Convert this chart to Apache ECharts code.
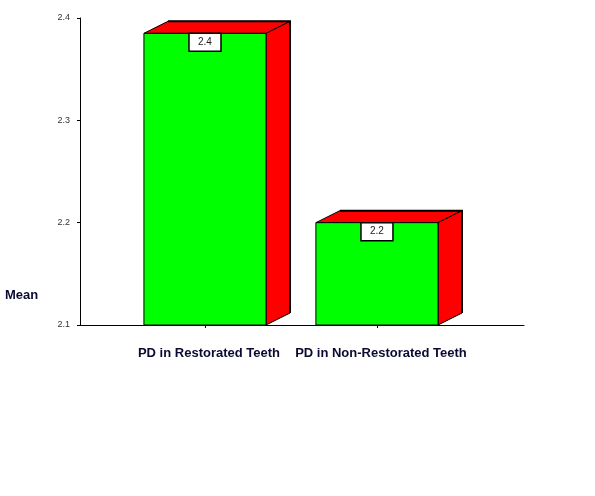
<!DOCTYPE html>
<html><head><meta charset="utf-8">
<script src="https://cdn.jsdelivr.net/npm/echarts@6/dist/echarts.min.js"></script>
<style>html,body{margin:0;padding:0;background:#fff}#c{width:595px;height:496px}</style>
</head><body><div id="c"></div>
<script>
const categories = ["PD in Restorated Teeth", "PD in Non-Restorated Teeth"];
const meanValues = [2.385, 2.2];
const valueLabels = ["2.4", "2.2"];
const yTicks = [2.1, 2.2, 2.3, 2.4];

const chart = echarts.init(document.getElementById('c'));
const DX = 24, DY = 12;
const data = categories.map((c, i) => [i + 1, meanValues[i], i]);

chart.setOption({
  animation: false,
  grid: {left: 80, right: 71, top: 18, bottom: 171, containLabel: false},
  xAxis: {
    type: 'value', min: 0.2733, max: 2.855,
    splitLine: {show: false},
    axisLine: {show: true, lineStyle: {color: '#000', width: 1}},
    axisTick: {show: true, customValues: [1, 2], length: 3, lineStyle: {color: '#000'}},
    axisLabel: {
      customValues: [1, 2], margin: 22,
      formatter: v => categories[Math.round(v) - 1] || '',
      fontFamily: 'Liberation Sans', fontWeight: 'bold', fontSize: 13, color: '#0a0a33',
      padding: [0, 0, 0, 8]
    }
  },
  yAxis: {
    type: 'value', min: 2.1, max: 2.4, interval: 0.1,
    splitLine: {show: false},
    axisLine: {show: true, lineStyle: {color: '#000', width: 1}},
    axisTick: {show: true, length: 3, lineStyle: {color: '#000'}},
    axisLabel: {margin: 10, fontSize: 9, color: '#333', fontFamily: 'Liberation Sans',
      formatter: v => { const t = yTicks.find(x => Math.abs(x - v) < 1e-6); return t !== undefined ? t.toFixed(1) : ''; }}
  },
  graphic: [{
    type: 'text', left: 5, top: 289,
    style: {text: 'Mean', font: 'bold 13px "Liberation Sans"', fill: '#0a0a33'}
  }],
  series: [{
    type: 'custom',
    data: data,
    clip: false,
    renderItem: function (params, api) {
      const x = api.value(0), v = api.value(1), idx = api.value(2);
      const top = api.coord([x, v]);
      const base = api.coord([x, 2.1]);
      const w = api.size([0.71, 0])[0];
      const x0 = top[0] - w / 2, x1 = top[0] + w / 2;
      const y0 = top[1], y1 = base[1];
      const stroke = {stroke: '#000', lineWidth: 1};
      return {
        type: 'group',
        children: [
          {type: 'polygon', shape: {points: [[x0, y0], [x0 + DX, y0 - DY], [x1 + DX, y0 - DY], [x1, y0]]},
            style: Object.assign({fill: '#ff0000'}, stroke)},
          {type: 'polygon', shape: {points: [[x1, y0], [x1 + DX, y0 - DY], [x1 + DX, y1 - DY], [x1, y1]]},
            style: Object.assign({fill: '#ff0000'}, stroke)},
          {type: 'polyline', shape: {points: [[x0 + DX, y0 - DY], [x1 + DX, y0 - DY], [x1 + DX, y1 - DY]]},
            style: {stroke: '#000', lineWidth: 2, fill: null}},
          {type: 'rect', shape: {x: x0, y: y0, width: w, height: y1 - y0},
            style: Object.assign({fill: '#00ff00'}, stroke)},
          {type: 'rect', shape: {x: top[0] - 16, y: y0, width: 32, height: 18},
            style: {fill: '#fff', stroke: '#000', lineWidth: 1.5}},
          {type: 'text', x: top[0], y: y0 + 9,
            style: {text: valueLabels[idx], fill: '#222', font: '10px "Liberation Sans"', align: 'center', verticalAlign: 'middle'}}
        ]
      };
    }
  }]
});
</script></body></html>
